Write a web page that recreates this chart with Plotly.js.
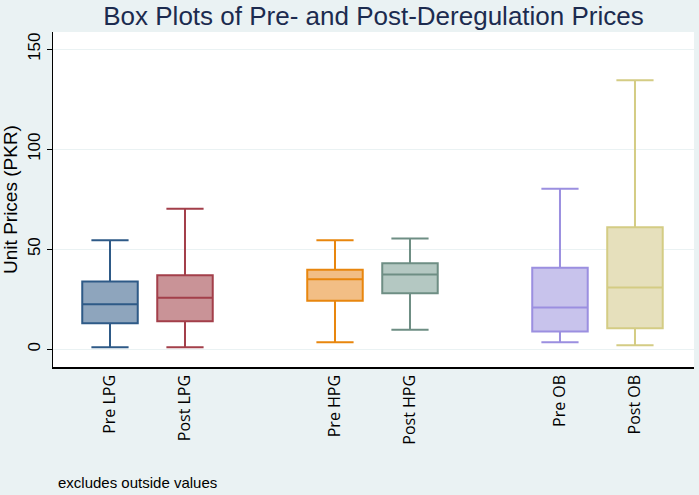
<!DOCTYPE html>
<html>
<head>
<meta charset="utf-8">
<script src="https://cdn.plot.ly/plotly-3.0.1.min.js"></script>
<style>
  html, body { margin: 0; padding: 0; background: #eaf2f3; }
  #chart { width: 699px; height: 495px; }
</style>
</head>
<body>
<div id="chart"></div>
<script>
// Box summaries (outside values excluded)
var groups = ["Pre LPG", "Post LPG", "Pre HPG", "Post HPG", "Pre OB", "Post OB"];
var positions = [1, 2, 4, 5, 7, 8];
var lowerWhisker = [1, 1, 3.5, 9.7, 3.5, 2];
var q1Values = [13, 14, 24.2, 28, 8.8, 10.5];
var medianValues = [22.5, 25.7, 35, 37.3, 20.8, 30.8];
var q3Values = [33.8, 37, 39.7, 43, 40.7, 61];
var upperWhisker = [54.5, 70.2, 54.5, 55.3, 80.2, 134.5];

// Stata s2color-like palette
var lineColors = ["#2e5a87", "#a33f4a", "#e8860e", "#6e8e84", "#9b8fe0", "#d4cc84"];
var fillColors = ["#8ea5bd", "#c99397", "#f2be85", "#b4c8c2", "#c8c3ec", "#e6e0bc"];

var traces = groups.map(function (name, i) {
    return {
        type: "box",
        name: name,
        x: [positions[i]],
        q1: [q1Values[i]],
        median: [medianValues[i]],
        q3: [q3Values[i]],
        lowerfence: [lowerWhisker[i]],
        upperfence: [upperWhisker[i]],
        boxpoints: false,
        width: 0.74,
        whiskerwidth: 0.67,
        line: { color: lineColors[i], width: 2 },
        fillcolor: fillColors[i],
        hoverinfo: "y"
    };
});

var layout = {
    width: 699,
    height: 495,
    paper_bgcolor: "#eaf2f3",
    plot_bgcolor: "#ffffff",
    showlegend: false,
    boxmode: "overlay",
    margin: { l: 53, r: 5, t: 32, b: 128 },
    font: { family: "Liberation Sans, Arial, sans-serif", color: "#000000" },
    title: {
        text: "Box Plots of Pre- and Post-Deregulation Prices",
        font: { size: 26, color: "#1c2b4f", family: "Liberation Sans, Arial, sans-serif" },
        x: 0.5,
        xref: "paper",
        y: 0.968,
        yref: "container",
        yanchor: "middle"
    },
    xaxis: {
        range: [0.24, 8.787],
        tickvals: positions,
        ticktext: groups,
        tickangle: -90,
        ticks: "",
        tickfont: { family: "Open Sans, sans-serif", size: 16, color: "#000000" },
        showgrid: false,
        zeroline: false,
        showline: true,
        linecolor: "#000000",
        linewidth: 1.5
    },
    yaxis: {
        range: [-8.9, 158.6],
        tickvals: [0, 50, 100, 150],
        tickangle: -90,
        ticks: "outside",
        ticklen: 5,
        tickcolor: "#000000",
        tickfont: { size: 17, color: "#000000" },
        showgrid: true,
        gridcolor: "#eaf2f3",
        gridwidth: 1,
        zeroline: false,
        showline: true,
        linecolor: "#000000",
        linewidth: 1.5,
        title: {
            text: "Unit Prices (PKR)",
            font: { size: 19, color: "#000000" },
            standoff: 2
        }
    },
    annotations: [{
        text: "excludes outside values",
        xref: "paper",
        yref: "paper",
        x: 0.005,
        y: -0.346,
        xanchor: "left",
        yanchor: "middle",
        showarrow: false,
        font: { size: 15, color: "#000000" }
    }]
};

Plotly.newPlot("chart", traces, layout, { displayModeBar: false, staticPlot: true });
</script>
</body>
</html>
